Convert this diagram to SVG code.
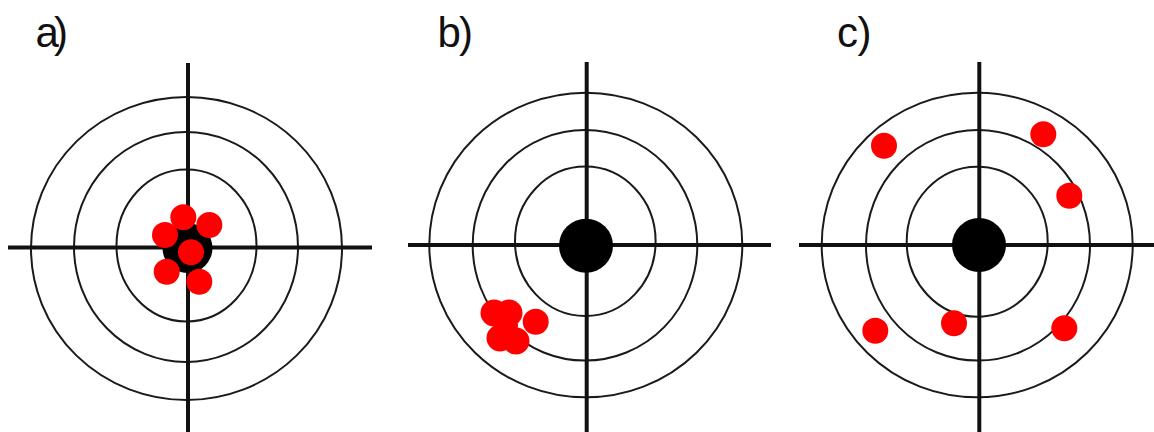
<svg xmlns="http://www.w3.org/2000/svg" width="1154" height="432" viewBox="0 0 1154 432">
<style>
.ring{fill:none;stroke:#1a1a1a;stroke-width:2}
.axis{stroke:#111;stroke-width:4}
.bull{fill:#000}
.hit{fill:#ff0000}
.lbl{font-family:"Liberation Sans",Arial,sans-serif;font-size:42px;fill:#111}
</style>
<rect width="1154" height="432" fill="#fff"/>
<g id="target-a">
<text class="lbl" x="35.5 54" y="46.5">a)</text>
<ellipse class="ring" cx="186.5" cy="248.5" rx="155.5" ry="151.5"/>
<ellipse class="ring" cx="186" cy="247" rx="112" ry="115"/>
<ellipse class="ring" cx="186.5" cy="245.5" rx="70" ry="76"/>
<line class="axis" x1="188" y1="63" x2="188" y2="432"/>
<line class="axis" x1="8" y1="247.5" x2="372" y2="247.5"/>
<circle class="bull" cx="187.5" cy="248" r="25"/>
<circle class="hit" cx="183.3" cy="217.3" r="13"/>
<circle class="hit" cx="209.3" cy="225" r="13"/>
<circle class="hit" cx="165" cy="235" r="13"/>
<circle class="hit" cx="191" cy="252.3" r="13"/>
<circle class="hit" cx="166.7" cy="271.7" r="13"/>
<circle class="hit" cx="199.3" cy="281.7" r="13"/>
</g>
<g id="target-b">
<text class="lbl" x="437.5 459" y="46.5">b)</text>
<ellipse class="ring" cx="585.8" cy="245" rx="156.5" ry="152.3"/>
<ellipse class="ring" cx="585" cy="245.3" rx="112.3" ry="115.3"/>
<ellipse class="ring" cx="585.3" cy="241.3" rx="70.3" ry="74.7"/>
<line class="axis" x1="586.7" y1="62" x2="586.7" y2="432"/>
<line class="axis" x1="408" y1="245" x2="771" y2="245"/>
<circle class="bull" cx="586" cy="245.7" r="27"/>
<circle class="hit" cx="494" cy="313" r="13.5"/>
<circle class="hit" cx="509" cy="313" r="13.5"/>
<circle class="hit" cx="535.7" cy="321.7" r="13"/>
<circle class="hit" cx="500" cy="338" r="13.5"/>
<circle class="hit" cx="516" cy="341" r="13.5"/>
<circle class="hit" cx="506" cy="326" r="12"/>
</g>
<g id="target-c">
<text class="lbl" x="837 857.4" y="46.5">c)</text>
<ellipse class="ring" cx="977.2" cy="245" rx="155.5" ry="152.3"/>
<ellipse class="ring" cx="978" cy="245.3" rx="112" ry="115.3"/>
<ellipse class="ring" cx="977.2" cy="241.7" rx="70.5" ry="75"/>
<line class="axis" x1="979.3" y1="62" x2="979.3" y2="432"/>
<line class="axis" x1="799" y1="245" x2="1154" y2="245"/>
<circle class="bull" cx="979" cy="245" r="27"/>
<circle class="hit" cx="884" cy="145.7" r="13"/>
<circle class="hit" cx="1043.3" cy="134.3" r="13"/>
<circle class="hit" cx="1069.3" cy="195.7" r="13"/>
<circle class="hit" cx="875.3" cy="330.7" r="13"/>
<circle class="hit" cx="954" cy="323.3" r="13"/>
<circle class="hit" cx="1064.3" cy="328.3" r="13"/>
</g>
</svg>
